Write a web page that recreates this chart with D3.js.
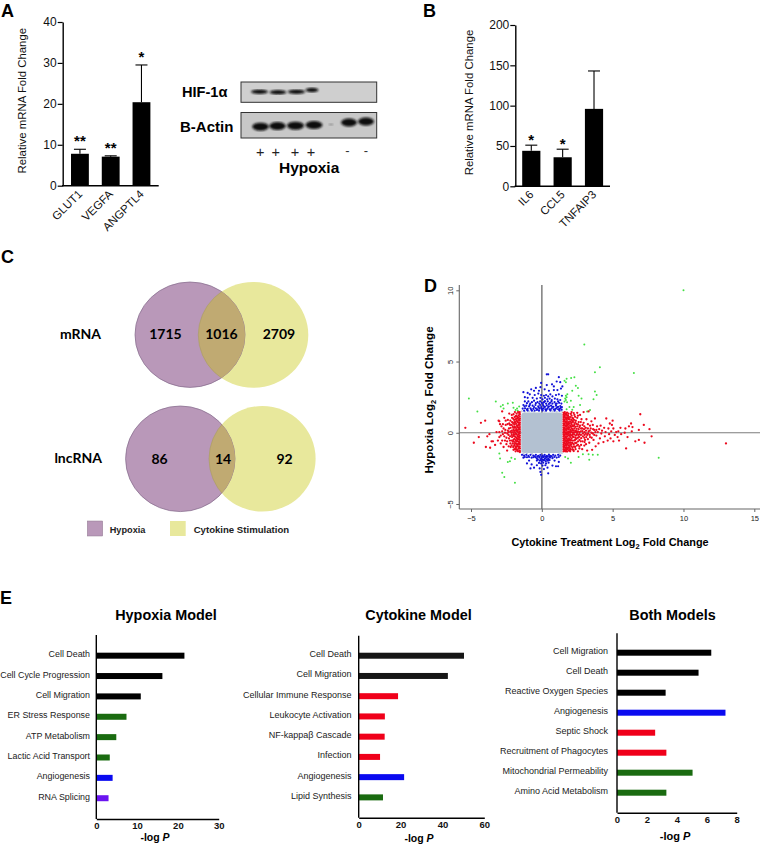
<!DOCTYPE html>
<html><head><meta charset="utf-8">
<script src="https://cdnjs.cloudflare.com/ajax/libs/d3/7.8.5/d3.min.js"></script>
<style>html,body{margin:0;padding:0;background:#fff}svg{display:block}text{font-family:"Liberation Sans",Arial,sans-serif}</style>
</head><body><svg id="c" width="760" height="844"></svg>
<script>
// Panel A / B
const aCats=["GLUT1","VEGFA","ANGPTL4"], aVals=[7.8,7.1,20.4], aErr=[8.9,7.3,29.5], aStars=["**","**","*"];
const bCats=["IL6","CCL5","TNFAIP3"], bVals=[44,36,96], bErr=[51,46,143], bStars=["*","*",""];
// Western blot
const hifLanes=[259.5,278,296.5,312], hifWidths=[17,17,17.5,13], hifRows=[91.7,92.2,91.7,90];
const actinLanes=[260.5,277.5,295.5,314,331,349,366], actinWidths=[16.5,16.5,17,17,5,16,16], actinRows=[126.7,126,125.7,125,124.5,122.5,121.5], actinOpacity=[1,1,1,1,.3,1,1];
const plusLanes=[260.3,275.7,295,311], minusLanes=[347.5,366];
// Venn
const vennRows=["mRNA","lncRNA"], vennCounts=[[1715,1016,2709],[86,14,92]];
// Panel E
const hypCats=["Cell Death","Cell Cycle Progression","Cell Migration","ER Stress Response","ATP Metabolism","Lactic Acid Transport","Angiogenesis","RNA Splicing"];
const hypVals=[21.6,16.2,10.9,7.4,4.9,3.3,4,3];
const hypColors=["#000","#000","#000","#1a6b10","#1a6b10","#1a6b10","#0a0af0","#6a14f0"];
const cytCats=["Cell Death","Cell Migration","Cellular Immune Response","Leukocyte Activation","NF-kappaβ Cascade","Infection","Angiogenesis","Lipid Synthesis"];
const cytVals=[50.3,42.6,18.8,12.5,12.4,10.2,21.7,11.6];
const cytColors=["#161616","#161616","#f0001a","#f0001a","#f0001a","#f0001a","#0a0af0","#1a6b10"];
const bothCats=["Cell Migration","Cell Death","Reactive Oxygen Species","Angiogenesis","Septic Shock","Recruitment of Phagocytes","Mitochondrial Permeability","Amino Acid Metabolism"];
const bothVals=[6.3,5.45,3.25,7.25,2.55,3.3,5.05,3.3];
const bothColors=["#000","#000","#000","#0a0af0","#f0001a","#f0001a","#1a6b10","#1a6b10"];
// Panel D scatter
const greenPts=[[10,10],[3,6.2],[4.1,4.6],[3.75,4.25],[6.5,4.2],[2.3,3.9],[2.07,3.85],[1.75,3.8],[1.6,3.65],[1.7,3.55],[2.4,3.3],[2.55,3.15],[3.75,2.9],[3.87,2.65],[2.6,2.6],[2.8,2.4],[3.65,2.35],[1.7,2.6],[1.75,2.5],[1.65,2.4],[1.8,2.7],[1.7,2.3],[1.6,2.2],[1.78,2.15],[2.15,2.95],[2.05,2.25],[2.7,1.95],[2.25,1.8],[1.95,1.8],[1.75,1.65],[2.15,1.62],[3.4,1.6],[3.2,1.5],[-5.15,2.4],[-3.25,2.2],[-4.55,1.5],[-2.9,1.85],[-2.7,1.7],[-2.75,1.95],[-2.4,2.05],[-2.05,2.1],[-2,1.75],[-1.85,1.6],[-1.7,1.55],[-1.6,1.85],[-1.75,1.7],[-3,-1.45],[-2.95,-1.8],[-2.4,-2.05],[-2.15,-1.75],[-1.9,-1.85],[-2.25,-2],[-2.8,-2.8],[-2.65,-3.1],[-1.9,-3.5],[1.65,-1.7],[1.85,-1.8],[2.05,-2.1],[2.6,-1.7],[2.9,-1.5],[3.3,-1.5],[3.6,-1.55],[3.95,-1.55],[3.35,-1.9],[8.25,-1.75]];
const bluePts=[[0.35,4.1],[0.45,4.1],[1.2,3.9],[1.05,3.6],[0.72,3.4],[1.3,3.55],[1.45,3.25],[1.35,3.1],[-0.05,3.5],[-0.1,3.2],[0.35,3.35],[0.85,3.25],[-0.42,3.15],[-0.75,3.05],[-0.55,2.95],[-0.2,2.95],[0.2,3.05],[0.5,2.95],[0.85,3],[1.1,3],[-1.3,2.85],[-1,2.8],[-0.85,2.7],[-0.5,2.65],[-0.25,2.75],[-0.05,2.65],[0.15,2.6],[0.3,2.65],[0.45,2.55],[0.6,2.7],[0.75,2.55],[1,2.65],[1.2,2.7],[1.42,2.6],[-1.2,2.5],[-1,2.45],[-0.65,2.45],[-0.35,2.4],[-0.1,2.45],[0.05,2.35],[0.22,2.45],[0.38,2.35],[0.55,2.4],[0.7,2.3],[0.92,2.4],[1.1,2.35],[1.3,2.3],[-1.2,2.2],[-0.95,2.2],[-0.7,2.15],[-0.55,2.25],[-0.3,2.15],[-0.12,2.2],[0,2.1],[0.15,2.15],[0.3,2.05],[0.42,2.2],[0.58,2.1],[0.75,2.05],[0.9,2.15],[1.05,2.05],[1.22,2.1],[1.38,2.05],[-1.3,1.95],[-1.1,1.9],[-0.85,1.95],[-0.65,1.9],[-0.45,1.95],[-0.25,1.85],[-0.12,1.95],[0.1,1.9],[0.22,1.82],[0.35,1.92],[0.5,1.85],[0.65,1.9],[0.82,1.82],[1,1.9],[1.15,1.82],[1.3,1.88],[1.42,1.8],[-1.35,1.7],[-1.18,1.72],[-1,1.68],[-0.8,1.72],[-0.6,1.68],[-0.42,1.72],[-0.3,1.65],[-0.15,1.7],[0,1.68],[0.12,1.72],[0.25,1.65],[0.4,1.7],[0.55,1.65],[0.7,1.72],[0.85,1.65],[1,1.7],[1.15,1.65],[1.28,1.7],[1.4,1.62],[-1.25,1.55],[-1,1.56],[-0.7,1.55],[-0.5,1.56],[-0.2,1.55],[0.05,1.56],[0.3,1.55],[0.6,1.56],[0.9,1.55],[1.25,1.55],
[-1.4,-1.55],[-1.25,-1.6],[-1.1,-1.55],[-0.95,-1.62],[-0.8,-1.55],[-0.6,-1.6],[-0.42,-1.55],[-0.25,-1.62],[-0.1,-1.55],[0.05,-1.6],[0.2,-1.55],[0.35,-1.62],[0.5,-1.55],[0.62,-1.62],[0.8,-1.55],[0.95,-1.6],[1.15,-1.55],[1.3,-1.6],[-1.3,-1.75],[-1.05,-1.72],[-0.72,-1.75],[-0.45,-1.72],[-0.35,-1.8],[-0.18,-1.74],[-0.05,-1.82],[0.1,-1.72],[0.22,-1.8],[0.32,-1.74],[0.45,-1.82],[0.58,-1.74],[0.75,-1.78],[1.05,-1.74],[-0.9,-1.95],[-0.35,-1.95],[-0.15,-1.95],[0,-2],[0.12,-1.92],[0.28,-2],[0.42,-1.95],[0.55,-1.92],[0.9,-1.95],[-0.2,-2.12],[-0.05,-2.15],[0.1,-2.1],[0.3,-2.15],[0.48,-2.1],[1.2,-2.05],[-1.05,-2.15],[-0.72,-2.22],[-0.35,-2.28],[0.05,-2.3],[0.25,-2.28],[-0.8,-2.5],[-0.55,-2.45],[0.75,-2.3],[1,-2.35],[1.15,-2.35],[-0.15,-2.5],[0.15,-2.55],[0.4,-2.45],[-0.05,-2.95],[-0.1,-2.75],[0.45,-2.85]];
const redPts=[[13,-0.75],[7.75,-0.25],[7.6,0.25],[7.2,0.55],[7.25,-0.7],[6.95,1.3],[6.85,0.2],[6.85,-0.5],[6.6,-0.6],[6.4,0.4],[6.35,0.1],[6.3,0.65],[6.15,0.45],[6.05,-0.3],[5.95,-1.1],[5.9,0.3],[5.85,0],[5.6,-0.1],[5.55,0.35],[5.45,-0.55],[5.4,0.1],[5.35,-0.3],[5.25,0.05],[5.15,-0.15],[5.05,0.3],[5.05,-0.6],[5,0.85],[4.95,0.55],[4.9,0.1],[4.85,-0.4],[4.8,0.65],[4.75,-0.1],[4.7,0.3],[4.65,-0.55],[4.55,1],[4.5,0.05],[4.45,-0.25],[4.4,0.35],[4.35,-0.65],[4.25,0.15],[4.2,-0.05],[4.15,0.5],[4.1,-0.4],[4.05,0.25],[4,-0.75],[3.95,0.05],[3.9,0.45],[3.85,-0.2],[3.8,-0.95],[3.75,1],[3.7,0.2],[3.65,-0.5],[3.6,0.55],[3.6,-0.05],[3.55,-1.2],[3.5,0.8],[3.45,0.3],[3.4,-0.3],[3.35,-0.7],[3.3,1.5],[3.3,0.1],[3.25,0.6],[3.2,-1.25],[3.2,-0.15],[3.15,0.95],[3.1,0.35],[3.05,-0.5],[3,0.05],[3,-0.9],[2.95,1.45],[2.95,0.7],[2.9,-0.25],[2.85,0.3],[2.85,-1.15],[2.8,0.95],[2.75,0.1],[2.75,-0.6],[2.7,1.25],[2.7,0.5],[2.65,-0.1],[2.65,-0.95],[2.6,0.75],[2.6,0.25],[2.55,-0.35],[2.55,-1.3],[2.5,1.4],[2.5,1.05],[2.5,0.45],[2.5,0],[2.45,-0.7],[2.4,0.85],[2.4,0.15],[2.4,-0.2],[2.35,-1],[2.35,-0.5],[2.3,1.25],[2.3,0.6],[2.3,0.3],[2.25,0],[2.25,-0.3],[2.25,-0.8],[2.2,1],[2.2,0.75],[2.2,0.45],[2.2,-1.2],[2.15,0.15],[2.15,-0.15],[2.15,-0.55],[2.1,1.45],[2.1,1.2],[2.1,0.9],[2.1,0.6],[2.1,0.3],[2.1,-0.4],[2.1,-0.95],[2.05,0.05],[2.05,-0.7],[2,1.1],[2,0.8],[2,0.5],[2,0.2],[2,-0.1],[2,-0.3],[2,-0.55],[2,-0.85],[2,-1.1],[2,-1.3],
[1.88,1.35],[1.9,1.1],[1.88,0.95],[1.9,0.75],[1.88,0.6],[1.9,0.4],[1.88,0.25],[1.9,0.1],[1.88,-0.05],[1.9,-0.2],[1.88,-0.4],[1.9,-0.55],[1.88,-0.7],[1.9,-0.9],[1.88,-1.05],[1.9,-1.25],
[1.78,1.42],[1.75,1.25],[1.78,1.1],[1.75,0.95],[1.78,0.82],[1.75,0.68],[1.78,0.55],[1.75,0.42],[1.78,0.28],[1.75,0.15],[1.78,0.02],[1.75,-0.12],[1.78,-0.25],[1.75,-0.38],[1.78,-0.52],[1.75,-0.65],[1.78,-0.78],[1.75,-0.92],[1.78,-1.05],[1.75,-1.2],[1.78,-1.32],
[1.62,1.45],[1.65,1.3],[1.62,1.18],[1.65,1.05],[1.62,0.92],[1.65,0.78],[1.62,0.65],[1.65,0.52],[1.62,0.38],[1.65,0.25],[1.62,0.12],[1.65,0],[1.62,-0.12],[1.65,-0.25],[1.62,-0.38],[1.65,-0.52],[1.62,-0.65],[1.65,-0.78],[1.62,-0.92],[1.65,-1.05],[1.62,-1.18],[1.65,-1.3],
[1.53,1.4],[1.53,1.25],[1.53,1.1],[1.53,0.95],[1.53,0.8],[1.53,0.65],[1.53,0.5],[1.53,0.35],[1.53,0.2],[1.53,0.05],[1.53,-0.1],[1.53,-0.25],[1.53,-0.4],[1.53,-0.55],[1.53,-0.7],[1.53,-0.85],[1.53,-1],[1.53,-1.15],[1.53,-1.3],
[-5.4,0.35],[-4.8,-0.7],[-4.45,-0.3],[-4.3,0.7],[-4,0.85],[-3.95,-1],[-3.85,-0.25],[-3.7,-0.1],[-3.65,-1.05],[-3.55,-0.6],[-3.45,-0.6],[-3.3,-0.85],[-3.2,0.05],[-3.1,-0.55],[-3.05,0.85],[-3,0.8],[-3,-0.3],[-3,0.05],[-2.9,-0.75],[-2.85,0.45],[-2.8,1.5],[-2.8,-0.55],[-2.75,-0.1],[-2.7,0.3],[-2.7,-1],[-2.65,1.05],[-2.6,0],[-2.55,0.55],[-2.5,-0.35],[-2.5,-0.8],[-2.45,-1.25],[-2.4,0.9],[-2.4,0.15],[-2.35,-0.15],[-2.3,1.35],[-2.3,0.65],[-2.25,-0.55],[-2.2,0.35],[-2.2,-1],[-2.15,0],[-2.1,1.05],[-2.1,0.75],[-2.1,-0.3],[-2.05,0.45],[-2.05,-0.75],[-2,1.3],[-2,0.2],[-2,-0.1],[-2,-0.5],[-2,-1.2],[-1.95,0.9],[-1.95,0.6],[-1.95,-0.9],[-1.9,1.45],[-1.9,0.35],[-1.9,0.05],[-1.9,-0.25],[-1.9,-0.65],[-1.85,1.15],[-1.85,0.75],[-1.85,-1.05],[-1.85,-1.3],
[-1.78,1.35],[-1.75,1],[-1.78,0.85],[-1.75,0.5],[-1.78,0.25],[-1.75,0.1],[-1.78,-0.1],[-1.75,-0.4],[-1.78,-0.6],[-1.75,-0.8],[-1.78,-0.98],[-1.75,-1.2],
[-1.68,1.45],[-1.65,1.22],[-1.68,1.05],[-1.65,0.9],[-1.68,0.72],[-1.65,0.55],[-1.68,0.38],[-1.65,0.22],[-1.68,0.05],[-1.65,-0.12],[-1.68,-0.28],[-1.65,-0.45],[-1.68,-0.62],[-1.65,-0.78],[-1.68,-0.95],[-1.65,-1.12],[-1.68,-1.3],
[-1.56,1.45],[-1.55,1.3],[-1.56,1.15],[-1.55,1],[-1.56,0.85],[-1.55,0.7],[-1.56,0.55],[-1.55,0.4],[-1.56,0.25],[-1.55,0.1],[-1.56,-0.05],[-1.55,-0.2],[-1.56,-0.35],[-1.55,-0.5],[-1.56,-0.65],[-1.55,-0.8],[-1.56,-0.95],[-1.55,-1.1],[-1.56,-1.25],[-1.55,-1.35]];
// second reading of the crowded stretches beside the grey block
const redCrowdRight=[[1.58,1.37],[1.7,1.35],[1.85,1.22],[1.6,1.12],[1.72,1.02],[1.83,1.02],[1.58,0.86],[1.7,0.76],[1.84,0.68],[1.97,0.95],[1.58,0.58],[1.7,0.48],[1.83,0.5],[1.97,0.65],[1.58,0.3],[1.7,0.22],[1.83,0.33],[1.95,0.35],[1.58,0.06],[1.7,-0.05],[1.83,0.02],[1.96,0.05],[1.58,-0.18],[1.7,-0.32],[1.83,-0.13],[1.96,-0.2],[1.58,-0.45],[1.7,-0.58],[1.83,-0.48],[1.96,-0.45],[1.58,-0.72],[1.7,-0.85],[1.83,-0.62],[1.96,-0.7],[1.58,-0.98],[1.7,-1.12],[1.83,-0.82],[1.96,-0.98],[1.58,-1.25],[1.7,-1.28],[1.83,-1.15],[1.96,-1.22],[2.05,1.32],[2.08,0.72],[2.06,0.42],[2.05,0.12],[2.07,-0.18],[2.05,-0.52],[2.07,-0.82],[2.05,-1.18],[2.15,1.05],[2.17,0.82],[2.15,0.5],[2.18,0.25],[2.17,0],[2.18,-0.28],[2.16,-0.72],[2.17,-1.05],[2.25,1.38],[2.27,0.9],[2.28,0.5],[2.26,0.15],[2.28,-0.12],[2.27,-0.55],[2.27,-0.95],[2.25,-1.28],[2.35,1.12],[2.36,0.72],[2.37,0.42],[2.35,0.05],[2.37,-0.35],[2.36,-0.72],[2.38,-1.15],[2.45,0.62],[2.46,0.28],[2.44,0.08],[2.46,-0.12],[2.45,-0.42],[2.47,-0.9],[2.55,1.2],[2.56,0.58],[2.55,0.1],[2.57,-0.15],[2.56,-0.6],[2.55,-0.85],[2.65,0.4],[2.66,0.05],[2.64,-0.28],[2.66,-0.5],[2.65,-1.1],[2.75,0.75],[2.77,0.3],[2.76,-0.15],[2.78,-0.38],[2.77,-0.85],[2.88,0.55],[2.86,0.12],[2.9,-0.05],[2.88,-0.6],[3,0.45],[2.98,0.25],[3.02,-0.15],[3,-0.35],[3.02,-0.65],[3.12,0.15],[3.1,-0.05],[3.14,-0.3],[3.12,-0.8],[3.25,0.3],[3.27,-0.05],[3.25,-0.45],[3.38,0.15],[3.4,0.5],[3.38,-0.15],[3.5,0],[3.52,-0.35],[3.62,0.25],[3.7,-0.15],[3.78,0.05],[3.85,0.2]];
const redCrowdLeft=[[-1.6,1.38],[-1.72,1.12],[-1.6,0.95],[-1.72,0.78],[-1.6,0.62],[-1.72,0.42],[-1.6,0.3],[-1.72,0.15],[-1.6,-0.02],[-1.72,-0.2],[-1.6,-0.3],[-1.72,-0.5],[-1.6,-0.72],[-1.72,-0.88],[-1.6,-1.05],[-1.72,-1.22],[-1.82,1.18],[-1.84,0.95],[-1.82,0.62],[-1.84,0.38],[-1.82,0.18],[-1.84,-0.05],[-1.82,-0.32],[-1.84,-0.52],[-1.82,-0.75],[-1.84,-0.95],[-1.82,-1.15],[-1.92,1.1],[-1.93,0.75],[-1.92,0.45],[-1.93,0.15],[-1.92,-0.12],[-1.93,-0.42],[-1.92,-0.8],[-1.93,-1.15],[-2.02,0.98],[-2.03,0.68],[-2.02,0.35],[-2.03,0.05],[-2.02,-0.22],[-2.03,-0.62],[-2.02,-1],[-2.12,1.25],[-2.13,0.55],[-2.12,0.15],[-2.13,-0.15],[-2.12,-0.55],[-2.13,-0.88],[-2.22,0.85],[-2.24,0.55],[-2.22,0.1],[-2.24,-0.25],[-2.22,-0.75],[-2.32,0.3],[-2.34,0.05],[-2.32,-0.4],[-2.34,-0.95],[-2.42,0.6],[-2.44,-0.05],[-2.45,-0.6],[-2.55,0.85],[-2.58,0.2],[-2.6,-0.55],[-2.65,-0.25],[-2.75,0.6],[-2.8,0.1],[-2.9,-0.2],[-2.95,0.6]];
const blueCrowd=[[-1.22,1.85],[-1.05,1.62],[-0.9,1.85],[-0.75,1.62],[-0.55,1.8],[-0.35,1.6],[-0.22,1.78],[-0.05,1.8],[0.05,1.62],[0.18,1.82],[0.32,1.62],[0.45,1.8],[0.62,1.62],[0.75,1.82],[0.92,1.62],[1.08,1.78],[1.22,1.62],[1.35,1.78],[-1.05,2.08],[-0.82,2.05],[-0.42,2.08],[-0.18,2.05],[0.08,2.02],[0.22,2.22],[0.5,2.02],[0.68,2.2],[0.98,2.02],[1.15,2.2],[-0.5,-1.65],[-0.32,-1.68],[-0.15,-1.68],[0,-1.7],[0.15,-1.65],[0.28,-1.68],[0.42,-1.68],[0.55,-1.66],[0.7,-1.66],[-0.28,-1.88],[-0.08,-1.92],[0.05,-1.88],[0.2,-1.92],[0.35,-1.88],[0.48,-1.88],[-1.2,-1.7],[-0.9,-1.7],[-0.6,-1.72],[0.88,-1.7],[1.2,-1.7]];
const grayEdge=[[-1.42,1.5],[-1.2,1.48],[-0.9,1.5],[-0.55,1.47],[0.2,1.48],[0.75,1.5],[1.05,1.46],[1.4,1.48],[-1.5,-1.35],[-1.3,-1.47],[-1.05,-1.45],[-0.7,-1.48],[0.5,-1.46],[1.25,-1.47],[1.42,-1.42],[-1.47,0.95],[-1.48,0.2],[-1.47,-0.6]];
const grayCore={x:[-1.45,1.45],y:[-1.42,1.42]};

const svg=d3.select("#c");
const F='"Liberation Sans",Arial,sans-serif';
function txt(x,y,s,size,o={}){const t=svg.append("text").attr("x",x).attr("y",y).text(s).attr("font-size",size).attr("fill",o.fill||"#000").attr("font-weight",o.weight||"normal").attr("text-anchor",o.anchor||"start");if(o.family)t.style("font-family",o.family);if(o.rotate!=null)t.attr("transform",`rotate(${o.rotate} ${x} ${y})`);return t;}
[["A",1,16.5],["B",423,16.5],["C",1,263],["D",424,292],["E",0,604]].forEach(d=>txt(d[1],d[2],d[0],18,{weight:"bold"}));

function barPanel(cats,vals,errs,stars,o){
  const x=d3.scaleBand().domain(cats).range(o.xr).paddingInner(o.pad).paddingOuter(o.padOut);
  const y=d3.scaleLinear().domain([0,o.max]).range(o.yr);
  const g=svg.append("g");
  g.selectAll(".e").data(cats).join("line").attr("x1",d=>x(d)+x.bandwidth()/2).attr("x2",d=>x(d)+x.bandwidth()/2).attr("y1",(d,i)=>y(vals[i])).attr("y2",(d,i)=>y(errs[i])).attr("stroke","#000").attr("stroke-width",1.1);
  g.selectAll(".c").data(cats).join("line").attr("x1",d=>x(d)+x.bandwidth()/2-6).attr("x2",d=>x(d)+x.bandwidth()/2+6).attr("y1",(d,i)=>y(errs[i])).attr("y2",(d,i)=>y(errs[i])).attr("stroke","#000").attr("stroke-width",1.1);
  g.selectAll(".b").data(cats).join("rect").attr("x",d=>x(d)).attr("width",x.bandwidth()).attr("y",(d,i)=>y(vals[i])).attr("height",(d,i)=>y(0)-y(vals[i])).attr("fill","#000");
  const ay=g.append("g").attr("transform",`translate(${o.xr[0]},0)`).call(d3.axisLeft(y).tickValues(o.ticks).tickSize(5).tickSizeOuter(0));
  ay.select(".domain").attr("stroke","#000").attr("stroke-width",1.4);
  ay.selectAll("line").attr("stroke","#000").attr("stroke-width",1.2);
  ay.selectAll("text").attr("font-size",12).attr("fill","#111").attr("x",-6).style("font-family",F);
  g.append("line").attr("x1",o.xr[0]-.7).attr("x2",o.xr[1]).attr("y1",y(0)).attr("y2",y(0)).attr("stroke","#000").attr("stroke-width",1.4);
  cats.forEach((c,i)=>{
    const cx=x(c)+x.bandwidth()/2;
    txt(cx+3,y(0)+9,c,11.5,{anchor:"end",fill:"#111"}).attr("transform",`rotate(-45 ${cx+3} ${y(0)+9})`);
    if(stars[i]) txt(cx,y(errs[i])-o.starGap,stars[i],15,{anchor:"middle",weight:"bold"});
  });
  txt(o.titleX,o.titleY,"Relative mRNA Fold Change",11.4,{anchor:"middle",rotate:-90,fill:"#111"});
}
barPanel(aCats,aVals,aErr,aStars,{xr:[62.7,158.7],yr:[185.7,22],max:40,ticks:[0,10,20,30,40],pad:.42,padOut:.27,titleX:26,titleY:100.7,starGap:3});
barPanel(bCats,bVals,bErr,bStars,{xr:[515.3,610],yr:[186.3,25],max:200,ticks:[0,50,100,150,200],pad:.42,padOut:.22,titleX:473,titleY:102.5,starGap:0});

// blot
const defs=svg.append("defs");
defs.append("filter").attr("id","bl").append("feGaussianBlur").attr("stdDeviation",.8);
const blot=svg.append("g");
blot.append("rect").attr("x",241).attr("y",82).attr("width",135.7).attr("height",20.3).attr("fill","#cfcfcf").attr("stroke","#333").attr("stroke-width",1);
blot.append("rect").attr("x",241).attr("y",112.5).attr("width",135.7).attr("height",25.5).attr("fill","#c8c8c8").attr("stroke","#333").attr("stroke-width",1);
hifLanes.forEach((l,i)=>blot.append("ellipse").attr("cx",l).attr("cy",hifRows[i]).attr("rx",hifWidths[i]/2).attr("ry",2.2).attr("fill","#111").attr("filter","url(#bl)"));
actinLanes.forEach((l,i)=>blot.append("ellipse").attr("cx",l).attr("cy",actinRows[i]).attr("rx",actinWidths[i]/2).attr("ry",i==4?1:4).attr("fill","#0c0c0c").attr("opacity",actinOpacity[i]).attr("filter","url(#bl)"));
txt(182,97,"HIF-1α",14.6,{weight:"bold"});
txt(180,132,"B-Actin",15,{weight:"bold"});
txt(279,173,"Hypoxia",15.5,{weight:"bold"});
plusLanes.forEach(l=>txt(l,157,"+",14.5,{anchor:"middle",fill:"#222"}));
minusLanes.forEach(l=>txt(l,155,"-",13,{anchor:"middle",fill:"#333"}));

// venn
const PUR="#b998b9",YEL="#e8e89c",OVL="#c0aa72";
const vc=[{a:[190,334.7,55,52.7],b:[253.3,334.9,55,52.9]},{a:[180.3,458.8,54.7,52.8],b:[262.3,458.8,53.3,52.8]}];
vc.forEach((v,i)=>{
  defs.append("clipPath").attr("id","cl"+i).append("ellipse").attr("cx",v.a[0]).attr("cy",v.a[1]).attr("rx",v.a[2]).attr("ry",v.a[3]);
  const e=(p,f)=>svg.append("ellipse").attr("cx",p[0]).attr("cy",p[1]).attr("rx",p[2]).attr("ry",p[3]).attr("fill",f);
  e(v.b,YEL);
  e(v.a,PUR).attr("stroke","#83688a").attr("stroke-width",.7);
  e(v.b,OVL).attr("clip-path",`url(#cl${i})`);
  e(v.b,"none").attr("stroke","#a59a5e").attr("stroke-width",.5).attr("clip-path",`url(#cl${i})`);
});
const LAT="Lato,sans-serif";
txt(101,339,vennRows[0],14,{anchor:"end",weight:"bold",family:LAT});
txt(102,463,vennRows[1],14,{anchor:"end",weight:"bold",family:LAT});
[[165.5,221.5,279],[159.5,223,284.5]].forEach((xs,r)=>xs.forEach((x,i)=>txt(x,r?464:339,vennCounts[r][i],14,{anchor:"middle",weight:"bold",family:LAT})));
svg.append("rect").attr("x",87.3).attr("y",521).attr("width",15.4).attr("height",15).attr("fill",PUR).attr("stroke","#8f7a90").attr("stroke-width",.5);
svg.append("rect").attr("x",170).attr("y",521).attr("width",15.7).attr("height",15).attr("fill",YEL);
txt(109.7,532.8,"Hypoxia",9.2,{weight:"bold",fill:"#222"});
txt(193.7,532.8,"Cytokine Stimulation",9.6,{weight:"bold",fill:"#222"});

// scatter
const sx=d3.scaleLinear().domain([-5,15]).range([471,754.3]);
const sy=d3.scaleLinear().domain([-5,10]).range([504,290.3]);
const dg=svg.append("g");
dg.append("line").attr("x1",459.3).attr("x2",760).attr("y1",sy(0)).attr("y2",sy(0)).attr("stroke","#7d7d7d").attr("stroke-width",1.2);
dg.append("line").attr("x1",sx(0)).attr("x2",sx(0)).attr("y1",285).attr("y2",509).attr("stroke","#8a8a8a").attr("stroke-width",1.7);
dg.append("rect").attr("x",sx(grayCore.x[0])).attr("y",sy(grayCore.y[1])).attr("width",sx(grayCore.x[1])-sx(grayCore.x[0])).attr("height",sy(grayCore.y[0])-sy(grayCore.y[1])).attr("rx",3).attr("fill","#b3c1d1");
const plot=(pts,c,r)=>dg.append("g").selectAll("circle").data(pts).join("circle").attr("cx",d=>sx(d[0])).attr("cy",d=>sy(d[1])).attr("r",r).attr("fill",c);
plot(grayEdge,"#c3cedb",1.1);
plot(greenPts,"#44e044",1);
plot(bluePts.concat(blueCrowd),"#1212d8",1.1);
plot(redPts.concat(redCrowdRight,redCrowdLeft),"#ec0a1e",1.15);
const ax=dg.append("g").attr("transform","translate(0,509)").call(d3.axisBottom(sx).tickValues([-5,0,5,10,15]).tickSize(3).tickSizeOuter(0));
const ayy=dg.append("g").attr("transform","translate(459.3,0)").call(d3.axisLeft(sy).tickValues([-5,0,5,10]).tickSize(3).tickSizeOuter(0));
ax.select(".domain").attr("d","M459.3,0H760");
ayy.select(".domain").attr("d","M0,285V509");
[ax,ayy].forEach(a=>{a.select(".domain").attr("stroke","#666").attr("stroke-width",1.1);a.selectAll("line").attr("stroke","#666");a.selectAll("text").attr("font-size",7.5).attr("fill","#222").style("font-family",F);});
ax.selectAll("text").attr("y",7);
ayy.selectAll("text").attr("text-anchor","middle").attr("x",0).attr("y",0).attr("dy",0).attr("transform","translate(-6,0) rotate(-90)");
const tx=txt(610,546,"Cytokine Treatment Log",10.9,{anchor:"middle",weight:"bold"});
tx.append("tspan").text("2").attr("font-size",7.5).attr("dy",2.5);
tx.append("tspan").text(" Fold Change").attr("dy",-2.5);
const ty=txt(433,400,"Hypoxia Log",11.6,{anchor:"middle",weight:"bold",rotate:-90});
ty.append("tspan").text("2").attr("font-size",7.5).attr("dy",2.5);
ty.append("tspan").text(" Fold Change").attr("dy",-2.5);

function hPanel(cats,vals,cols,o){
  const x=d3.scaleLinear().domain([0,o.max]).range(o.xr);
  const y=d3.scaleBand().domain(cats).range(o.yb);
  const g=svg.append("g");
  g.selectAll("rect").data(cats).join("rect").attr("x",x(0)).attr("y",d=>y(d)+y.bandwidth()/2-3).attr("height",6).attr("width",(d,i)=>x(vals[i])-x(0)).attr("fill",(d,i)=>cols[i]);
  const a=g.append("g").attr("transform",`translate(0,${o.bottom})`).call(d3.axisBottom(x).tickValues(o.ticks).tickSize(0).tickSizeOuter(0));
  a.select(".domain").attr("stroke","#000").attr("stroke-width",1.4);
  a.selectAll("text").attr("font-size",o.tickSize).attr("font-weight","bold").attr("fill","#111").attr("y",o.tickY).attr("dy",0).style("font-family",F);
  g.append("line").attr("x1",o.xr[0]).attr("x2",o.xr[0]).attr("y1",o.top).attr("y2",o.bottom).attr("stroke","#000").attr("stroke-width",1.4);
  cats.forEach(c=>txt(o.labelX,y(c)+y.bandwidth()/2+1.5,c,o.labelSize,{anchor:"end",fill:"#222"}));
  txt(o.titleX,620,o.title,14.4,{anchor:"middle",weight:"bold"});
  const l=txt(o.logX,o.logY,"-log ",o.logSize,{anchor:"middle",weight:"bold"});
  l.append("tspan").text("P").attr("font-style","italic");
}
hPanel(hypCats,hypVals,hypColors,{max:30,xr:[96.3,218.7],yb:[645.5,808.4],bottom:819,top:635,ticks:[0,10,20,30],tickSize:9.5,tickY:10,labelX:90,labelSize:8.9,title:"Hypoxia Model",titleX:166,logX:155,logY:841,logSize:10.5});
hPanel(cytCats,cytVals,cytColors,{max:60,xr:[358.7,484.3],yb:[645.6,807.5],bottom:817.7,top:635.7,ticks:[0,20,40,60],tickSize:9.5,tickY:10.5,labelX:351.5,labelSize:9,title:"Cytokine Model",titleX:418.5,logX:419,logY:842,logSize:10.5});
hPanel(bothCats,bothVals,bothColors,{max:8,xr:[617,736.7],yb:[642.7,802.7],bottom:812.7,top:633.3,ticks:[0,2,4,6,8],tickSize:9.5,tickY:10,labelX:608,labelSize:9,title:"Both Models",titleX:672.5,logX:675,logY:840,logSize:11});
</script></body></html>
